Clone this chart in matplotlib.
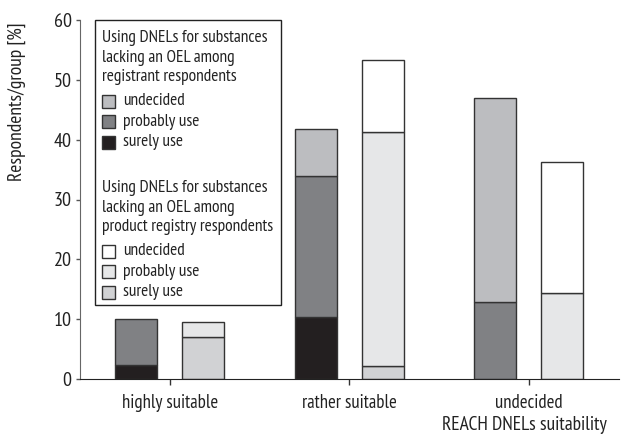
import matplotlib
matplotlib.use("Agg")
import matplotlib.pyplot as plt
from matplotlib.patches import Rectangle
import numpy as np

plt.rcParams['font.family'] = ['PT Sans Narrow', 'DejaVu Sans']

categories = ['highly suitable', 'rather suitable', 'undecided']
reg_surely = [2.3, 10.3, 0.0]
reg_probably = [7.7, 23.6, 12.8]
reg_undecided = [0.0, 7.9, 34.2]
prod_surely = [7.0, 2.1, 0.0]
prod_probably = [2.5, 39.2, 14.3]
prod_undecided = [0.0, 12.0, 21.9]

reg_colors = ['#231f20', '#808184', '#bcbdc0']
prod_colors = ['#d1d2d4', '#e6e7e8', '#ffffff']
labels = ['surely use', 'probably use', 'undecided']

W, H = 623, 438
fig = plt.figure(figsize=(W / 100, H / 100), dpi=100)
ax = fig.add_axes([80 / W, 1 - 379 / H, 538.5 / W, 359 / H])

x = np.arange(len(categories))
off = 0.187
bw = 0.234
edge = '#333333'

def stack(xpos, series, colors):
    bottom = np.zeros(len(categories))
    for vals, c in zip(series, colors):
        vals = np.array(vals)
        mask = vals > 0
        ax.bar(xpos[mask], vals[mask], bw, bottom=bottom[mask], color=c,
               edgecolor=edge, linewidth=1.0, zorder=2)
        bottom += vals

stack(x - off, [reg_surely, reg_probably, reg_undecided], reg_colors)
stack(x + off, [prod_surely, prod_probably, prod_undecided], prod_colors)

ax.set_xlim(-0.5, 2.5)
ax.set_ylim(0, 60)
ax.set_yticks(np.arange(0, 61, 10))
ax.set_xticks(x)
ax.set_xticklabels(categories)
ax.spines['top'].set_visible(False)
ax.spines['right'].set_visible(False)
ax.spines['left'].set_color('#666666')
ax.spines['bottom'].set_color('#222222')
ax.tick_params(axis='y', length=3, width=1, color='#555555', pad=3,
               labelsize=14.5, labelcolor='#222222')
ax.tick_params(axis='x', length=4, width=1, color='#333333', pad=7,
               labelsize=13.5, labelcolor='#222222')

fig.text(17 / W, 1 - 102 / H, 'Respondents/group [%]', rotation=90,
         ha='center', va='center', fontsize=14, color='#222222')
fig.text(607 / W, 1 - 425 / H, 'REACH DNELs suitability', ha='right',
         va='center', fontsize=14, color='#222222')

def fx(px):
    return px / W

def fy(py):
    return 1 - py / H

fig.patches.append(Rectangle((fx(95), fy(305)), 186 / W, 285 / H,
                             transform=fig.transFigure, facecolor='white',
                             edgecolor='#222222', linewidth=1.0, zorder=5))

fs = 12.5
tc = '#222222'
head1 = ['Using DNELs for substances', 'lacking an OEL among',
         'registrant respondents']
head2 = ['Using DNELs for substances', 'lacking an OEL among',
         'product registry respondents']
for i, t in enumerate(head1):
    fig.text(fx(102), fy(42 + i * 19.5), t, fontsize=fs, color=tc,
             va='baseline', ha='left', zorder=6)
for i, t in enumerate(head2):
    fig.text(fx(102), fy(192 + i * 19.5), t, fontsize=fs, color=tc,
             va='baseline', ha='left', zorder=6)

items1 = [(reg_colors[2], labels[2]), (reg_colors[1], labels[1]),
          (reg_colors[0], labels[0])]
items2 = [(prod_colors[2], labels[2]), (prod_colors[1], labels[1]),
          (prod_colors[0], labels[0])]
for base, items in ((101, items1), (251, items2)):
    for i, (c, t) in enumerate(items):
        cy = base + i * 20.5
        fig.patches.append(Rectangle((fx(102), fy(cy + 6.5)), 13 / W, 13 / H,
                                     transform=fig.transFigure, facecolor=c,
                                     edgecolor='#333333', linewidth=1.0,
                                     zorder=6))
        fig.text(fx(123), fy(cy), t, fontsize=fs, color=tc, va='center',
                 ha='left', zorder=6)

fig.savefig('out.png', dpi=100)
